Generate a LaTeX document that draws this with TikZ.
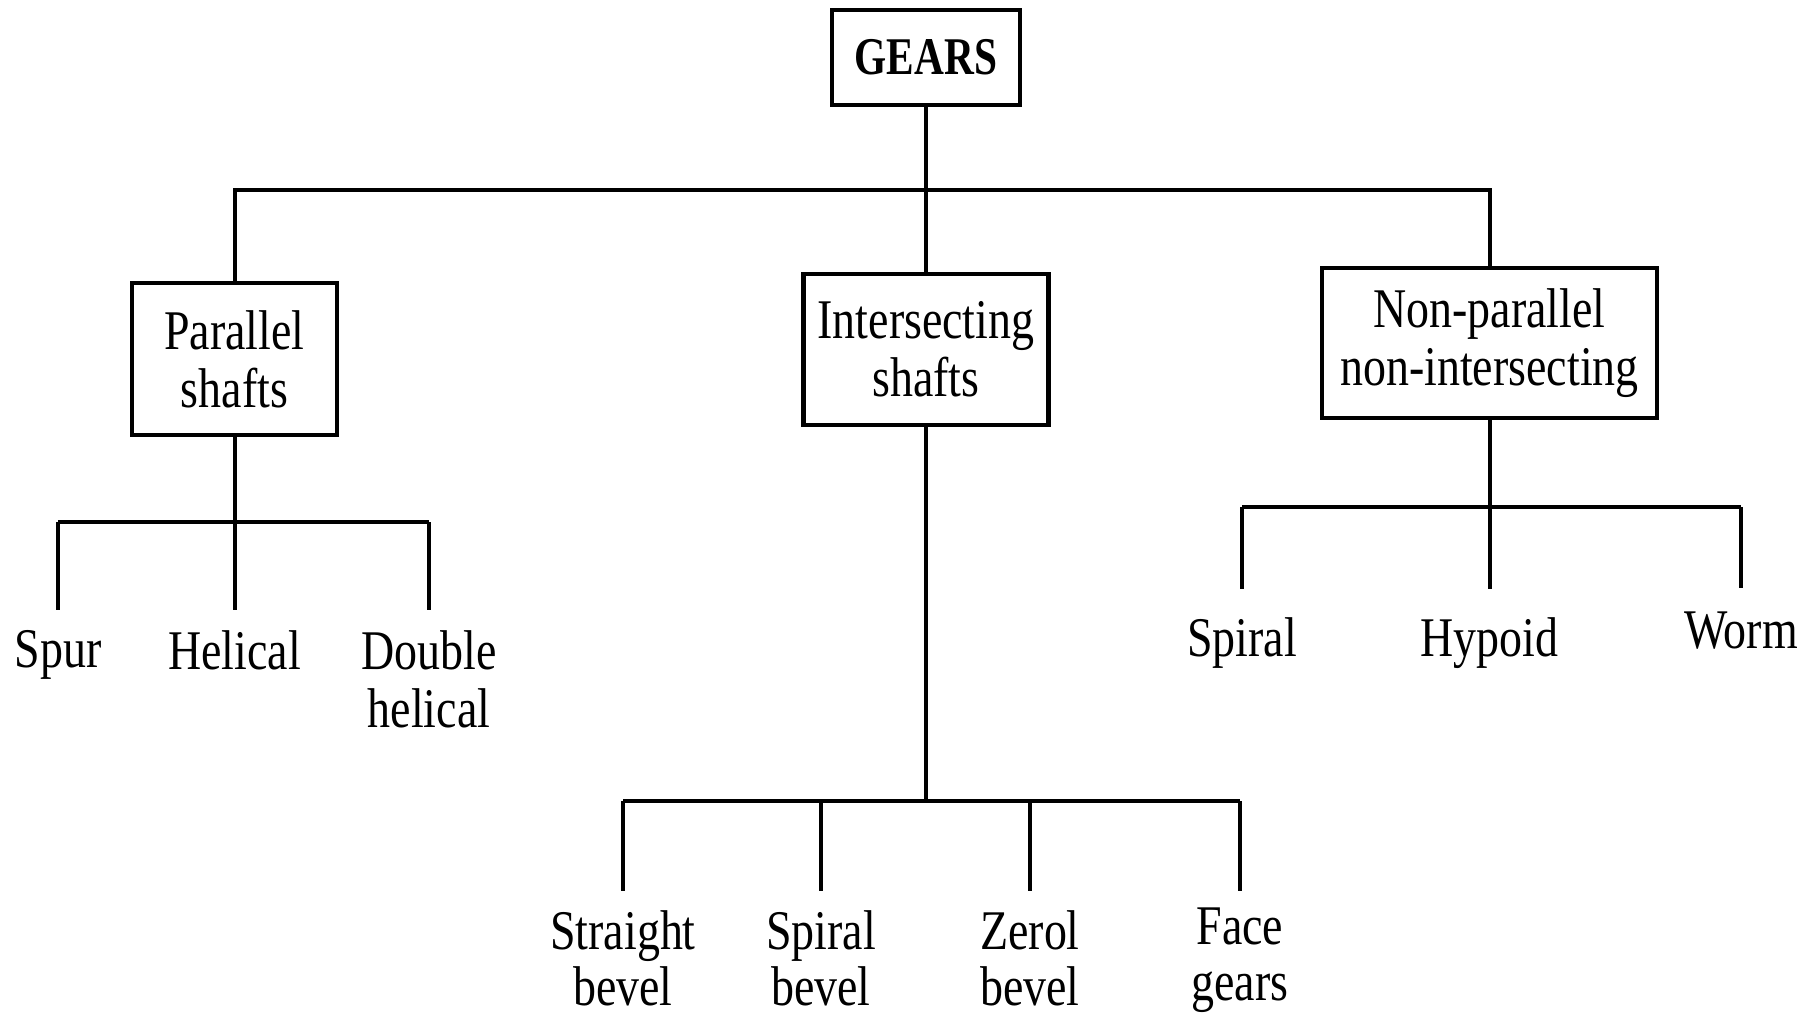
\documentclass[tikz,border=0pt]{standalone}
\usepackage{fontspec}
\setmainfont{Liberation Serif}[FakeStretch=0.82]
\newfontfamily\gearsfont{Liberation Serif}[FakeStretch=0.78]
\begin{document}
\begin{tikzpicture}[x=1pt,y=-1pt,
  txt/.style={font={\fontsize{56}{58}\selectfont}, align=center, inner sep=0pt},
  box/.style={txt, draw, line width=4.5pt},
  leaf/.style={txt, anchor=north},
  conn/.style={line width=4pt}]
\useasboundingbox (0,0) rectangle (1808,1021);
% boxes
\node[box, minimum width=188pt, minimum height=95pt, font={\gearsfont\bfseries\fontsize{53}{58}\selectfont}] (gears) at (926,57.5) {GEARS};
\node[box, minimum width=205pt, minimum height=152pt] (par) at (234.5,359) {Parallel\\shafts};
\node[box, minimum width=245pt, minimum height=151pt] (int) at (926,349.5) {Intersecting\\shafts};
\node[box, minimum width=335pt, minimum height=150pt] (npar) at (1489.5,343) {Non-parallel\\non-intersecting};
% leaves
\node[leaf] (spur) at (58,630) {Spur};
\node[leaf] (hel) at (234.5,630) {Helical};
\node[leaf] (dbl) at (429,630) {Double\\helical};
\node[leaf] (spir) at (1242,617) {Spiral};
\node[leaf] (hyp) at (1489.5,617) {Hypoid};
\node[leaf] (worm) at (1741,612) {Worm};
\node[leaf, font={\fontsize{56}{56}\selectfont}] (str) at (623,910) {Straight\\bevel};
\node[leaf, font={\fontsize{56}{56}\selectfont}] (spb) at (821,910) {Spiral\\bevel};
\node[leaf, font={\fontsize{56}{56}\selectfont}] (zer) at (1030,910) {Zerol\\bevel};
\node[leaf, font={\fontsize{56}{56}\selectfont}] (face) at (1240,908) {Face\\gears};
% bus levels
\coordinate (mb) at (0,190);
\coordinate (pb) at (0,522);
\coordinate (nb) at (0,507);
\coordinate (ib) at (0,801);
% main
\draw[conn] (gears.south) -- (int.north);
\draw[conn] (par.north) -- (par.north |- mb) -- (npar.north |- mb) -- (npar.north);
% parallel
\draw[conn, shorten >=20pt] (par.south) -- (hel.north);
\draw[conn] (spur.north |- pb) -- (dbl.north |- pb);
\draw[conn, shorten >=20pt] (spur.north |- pb) -- (spur.north);
\draw[conn, shorten >=20pt] (dbl.north |- pb) -- (dbl.north);
% non-parallel
\draw[conn, shorten >=28pt] (npar.south) -- (hyp.north);
\draw[conn] (spir.north |- nb) -- (worm.north |- nb);
\draw[conn, shorten >=28pt] (spir.north |- nb) -- (spir.north);
\draw[conn, shorten >=24pt] (worm.north |- nb) -- (worm.north);
% intersecting
\draw[conn] (int.south) -- (int.south |- ib);
\draw[conn] (str.north |- ib) -- (face.north |- ib);
\draw[conn, shorten >=19pt] (str.north |- ib) -- (str.north);
\draw[conn, shorten >=19pt] (spb.north |- ib) -- (spb.north);
\draw[conn, shorten >=19pt] (zer.north |- ib) -- (zer.north);
\draw[conn, shorten >=17pt] (face.north |- ib) -- (face.north);
\end{tikzpicture}
\end{document}
